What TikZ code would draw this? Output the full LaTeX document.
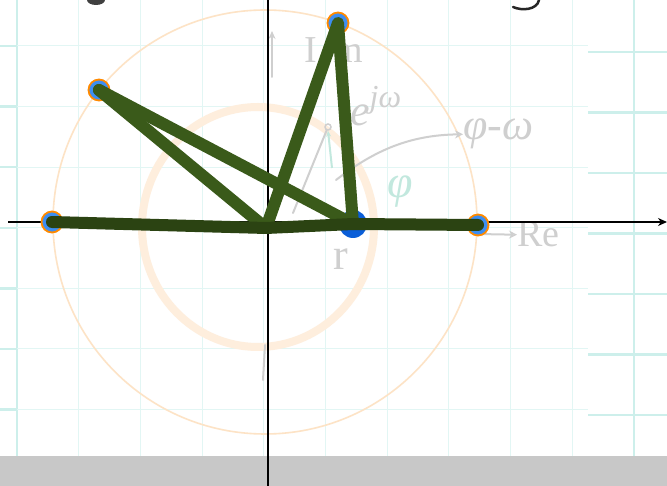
\documentclass[tikz,border=0pt]{standalone}
\usepackage{fontspec}
\usepackage{xcolor}
\usepackage{tikz}
\usetikzlibrary{arrows.meta, positioning, calc}

\newfontfamily\handfont{Liberation Serif}

\definecolor{gridcyan}{HTML}{E2F6F4}
\definecolor{gridedge}{HTML}{CDEFEB}
\definecolor{ringorange}{HTML}{FF8A00}
\definecolor{dotblue}{HTML}{3D8EF2}
\definecolor{deepblue}{HTML}{0A5ED8}
\definecolor{chordgreen}{HTML}{3A5A1A}
\definecolor{basegreen}{HTML}{2B4312}
\definecolor{circorange}{HTML}{FDE3C6}
\definecolor{inkgray}{HTML}{CFCFCF}
\definecolor{inkteal}{HTML}{C2E8DE}
\definecolor{bandgray}{HTML}{C8C8C8}

\begin{document}
\begin{tikzpicture}[
    x=1pt, y=-1pt,
    gridline/.style={gridcyan, line width=1pt},
    gridbold/.style={gridedge, line width=2.4pt},
    axis/.style={black, line width=1.5pt},
    rim/.style={circorange, line width=1.6pt},
    ptdot/.style={
      circle, fill=dotblue, draw=ringorange, line width=1.8pt,
      minimum size=21pt, inner sep=0pt
    },
    ptbig/.style={circle, fill=deepblue, minimum size=28pt, inner sep=0pt},
    chord/.style={chordgreen, line width=12pt, line cap=round, line join=round},
    ink/.style={inkgray, line width=2pt, line cap=round},
    hand/.style={text=inkgray, inner sep=0pt}
  ]
  \useasboundingbox (0,0) rectangle (667,486);
  \fill[white] (0,0) rectangle (667,486);

  % Paper grid
  \foreach \i in {0,...,10}
    \draw[gridline] ({17+61.7*\i},0) -- ({17+61.7*\i},456);
  \draw[gridbold] (17,0) -- (17,456);
  \draw[gridbold] (634,0) -- (634,456);
  \foreach \j in {0,...,6} {
    \draw[gridline] (0,{46+60.6*\j}) -- (588,{46+60.6*\j});
    \draw[gridbold] (0,{46+60.6*\j}) -- (17,{46+60.6*\j});
    \draw[gridbold] (588,{52+60.5*\j}) -- (667,{52+60.5*\j});
  }
  \fill[bandgray] (0,456) rectangle (667,486);

  % Circles
  \draw[rim] (265,222) circle[radius=212];
  \draw[circorange!60, line width=8pt] (258,227) ellipse[x radius=116, y radius=120];

  % Handwritten notes
  \node[hand, font=\handfont\fontsize{38}{38}\selectfont] (imlbl) at (334,50) {I\kern16pt m};
  \coordinate (imfoot) at (272,77);
  \coordinate (imhead) at (272,31);
  \draw[ink, -{Stealth[length=8pt, width=7pt, open]}] (imfoot) -- (imhead);
  \node[hand, anchor=base west, font=\handfont\itshape\fontsize{44}{44}\selectfont]
    (ejw) at (350,126) {e\raisebox{0.42em}{\fontsize{32}{32}\selectfont jω}};
  \node[hand, anchor=base west, font=\handfont\itshape\fontsize{44}{44}\selectfont]
    (diff) at (463,140) {φ-ω};
  \node[hand, text=inkteal, font=\handfont\itshape\fontsize{46}{46}\selectfont]
    (philbl) at (400,192) {φ};
  \node[hand, anchor=base west, font=\handfont\fontsize{38}{38}\selectfont]
    (relbl) at (517,247) {Re};
  \node[hand, anchor=base west, font=\handfont\fontsize{44}{44}\selectfont]
    (rlbl) at (333,270) {r};
  \node[draw=inkgray, line width=1.5pt, circle, minimum size=6pt, inner sep=0pt]
    (tip) at (328,127) {};
  \coordinate (spoke) at (293,213);
  \draw[ink] (spoke) -- (tip);
  \coordinate (curl) at (336,180);
  \draw[ink, -{Stealth[length=8pt, width=8pt, open]}]
    (curl) .. controls (375,150) and (410,135) .. (diff.west);
  \coordinate (tealfoot) at (332,168);
  \draw[inkteal, line width=2pt, -{Stealth[length=6pt, width=5pt, open]}]
    (tealfoot) -- (tip.south);
  \coordinate (refoot) at (478,234);
  \draw[ink, -{Stealth[length=8pt, width=8pt, open]}] (refoot) -- (relbl.west);
  \coordinate (imlow) at (265,345);
  \coordinate (imend) at (263,380);
  \draw[ink] (imlow) -- (imend);

  % Cut-off glyphs at the top edge
  \coordinate (ytop) at (539,0);
  \coordinate (yend) at (513,7);
  \draw[black!85, line width=2.5pt, line cap=round]
    (ytop) .. controls (537,10) and (522,11) .. (yend);
  \fill[black!75] (96,0) ellipse[x radius=9, y radius=5];

  % Axes
  \coordinate (xstart) at (8,222);
  \coordinate (xend) at (667,222);
  \coordinate (ytopax) at (268,0);
  \coordinate (ybotax) at (268,486);
  \draw[axis, -{Stealth[length=9pt, width=8pt]}] (xstart) -- (xend);
  \draw[axis] (ytopax) -- (ybotax);

  % Points
  \node[ptdot] (p1) at (52,222) {};
  \node[ptdot] (p2) at (99,90) {};
  \node[ptdot] (p3) at (338,23) {};
  \node[ptdot] (p4) at (478,225) {};
  \node[ptbig] (p5) at (353,224) {};
  \coordinate (o) at (266,228);

  % Chords
  \draw[chord] (p2.center) -- (o);
  \draw[chord] (p2.center) -- (p5.center);
  \draw[chord] (o) -- (p3.center) -- (p5.center);
  \draw[chord, basegreen] (p1.center) -- (o) -- (p5.center) -- (p4.center);

\end{tikzpicture}
\end{document}
